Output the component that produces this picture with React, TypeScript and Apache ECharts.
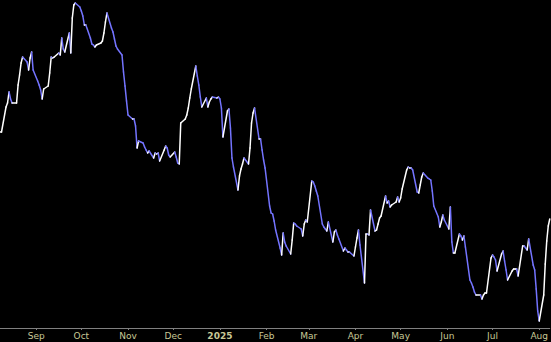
import React, { useEffect, useRef } from "react";
import * as echarts from "echarts";

// Daily closes, one per weekday starting Thu 2024-08-08
const closes: number[] = [
  29.6, 29.6,
  32.1, 32.5, 33.6, 32.9, 32.5,
  32.5, 34.3, 35.3, 36.5, 37.1,
  36.6, 35.8, 37.0, 37.6, 35.8,
  34.7, 34.3, 33.8, 32.9, 33.9,
  34.2, 35.5, 37.1, 37.0, 37.1,
  37.5, 37.3, 39.0, 37.9, 37.6,
  39.5, 37.5, 41.0, 42.3, 42.5,
  42.1, 41.7, 41.2, 40.3, 40.3,
  39.0, 38.4, 38.3, 38.1, 38.3,
  38.5, 38.7, 39.5, 40.6, 41.5,
  40.0, 39.6, 38.9, 38.2, 37.9,
  37.3, 35.6, 34.2, 32.7, 31.3,
  30.9, 30.9, 30.2, 28.0, 28.7,
  28.5, 28.1, 27.8, 27.5, 27.7,
  27.0, 27.5, 27.4, 27.5, 26.7,
  27.8, 28.2, 28.0, 27.3, 27.1,
  27.6, 27.1, 26.5, 26.4, 30.5,
  30.9, 31.3, 32.0, 33.0, 33.9,
  36.2, 35.2, 34.3, 33.1, 32.1,
  33.0, 32.1, 32.6, 32.9, 33.1,
  33.0, 33.1, 32.9, 32.0, 29.1,
  31.7, 31.9, 30.0, 27.0, 26.1,
  23.8, 25.2, 25.9, 26.4, 27.0,
  26.4, 28.0, 30.5, 31.5, 32.0,
  28.9, 28.9, 27.8, 26.8, 26.0,
  22.2, 21.5, 21.4, 20.7, 19.8,
  18.0, 17.3, 19.5, 18.6, 18.2,
  17.4, 18.8, 20.5, 20.4, 20.2,
  19.9, 19.2, 20.4, 20.8, 20.6,
  24.7, 24.6, 24.2, 23.7, 23.2,
  20.4, 20.1, 19.9, 19.7, 20.6,
  18.6, 19.6, 19.8, 19.3, 18.9,
  17.7, 18.0, 17.8, 17.6, 17.6,
  17.2, 18.1, 19.0, 19.8, 18.3,
  14.5, 19.4, 19.4, 19.3, 21.8,
  19.7, 19.8, 20.4, 21.0, 21.2,
  23.2, 22.5, 22.7, 22.1, 22.3,
  22.6, 23.1, 22.6, 23.0, 23.9,
  25.8, 26.1, 26.0, 26.0, 25.8,
  23.6, 23.5, 24.3, 25.1, 25.5,
  25.0, 24.9, 24.8, 23.7, 22.2,
  21.1, 20.1, 20.6, 21.3, 20.8,
  19.9, 22.1, 18.6, 17.5, 17.5,
  19.4, 19.2, 18.8, 19.2, 18.1,
  14.8, 14.5, 14.1, 13.6, 13.3,
  13.3, 12.9, 13.3, 13.5, 13.5,
  17.0, 17.3, 17.1, 16.8, 15.7,
  17.4, 17.7, 16.7, 15.8, 14.8,
  15.7, 15.9, 15.9, 15.9, 15.2,
  18.2, 18.2, 18.0, 17.8, 18.9,
  16.3, 15.8, 13.9, 11.7, 10.7,
  13.3, 16.4, 18.7, 20.2, 20.9,
];

const MONTH_NAMES = ["Jan", "Feb", "Mar", "Apr", "May", "Jun", "Jul", "Aug", "Sep", "Oct", "Nov", "Dec"];

const FIRST_DAY = new Date(2024, 7, 8).getTime();
const LAST_DAY = new Date(2025, 7, 8).getTime();
const DAY = 86400000;

function tradingDays(n: number): number[] {
  const out: number[] = [];
  const d = new Date(2024, 7, 8);
  while (out.length < n) {
    const wd = d.getDay();
    if (wd !== 0 && wd !== 6) out.push(d.getTime());
    d.setDate(d.getDate() + 1);
  }
  return out;
}

const UP_COLOR = "#ffffff";
const DOWN_COLOR = "#7474ff";
const LABEL_COLOR = "#c8c896";
const FONT = "DejaVu Sans";

export default function App() {
  const ref = useRef<HTMLDivElement>(null);

  useEffect(() => {
    document.body.style.margin = "0";
    document.body.style.background = "#000";
    if (!ref.current) return;
    const chart = echarts.init(ref.current, undefined, { renderer: "svg" });
    const dates = tradingDays(closes.length);
    const segments: number[][] = [];
    for (let i = 1; i < closes.length; i++) {
      segments.push([dates[i - 1], closes[i - 1], dates[i], closes[i]]);
    }
    chart.setOption({
      animation: false,
      backgroundColor: "#000000",
      grid: { left: 0, right: 0, top: 0, bottom: 14, containLabel: false },
      xAxis: {
        type: "time",
        min: FIRST_DAY,
        max: LAST_DAY,
        splitNumber: 12,
        minInterval: 28 * DAY,
        maxInterval: 31 * DAY,
        axisLine: { show: true, lineStyle: { color: "#808080", width: 1 } },
        axisTick: { show: true, length: 2, lineStyle: { color: "#808080" } },
        splitLine: { show: false },
        axisLabel: {
          color: LABEL_COLOR,
          fontSize: 9,
          fontFamily: FONT,
          margin: 3,
          showMinLabel: false,
          showMaxLabel: false,
          hideOverlap: false,
          formatter: (val: number) => {
            const d = new Date(val);
            return d.getMonth() === 0 ? `{yr|${d.getFullYear()}}` : MONTH_NAMES[d.getMonth()];
          },
          rich: {
            yr: { fontWeight: "bold", color: LABEL_COLOR, fontSize: 9, fontFamily: FONT },
          },
        },
      },
      yAxis: { type: "value", min: 10, max: 42.8, show: false },
      series: [
        {
          type: "custom",
          clip: false,
          encode: { x: [0, 2], y: [1, 3] },
          data: segments,
          renderItem: (_params: any, api: any) => {
            const a = api.coord([api.value(0), api.value(1)]);
            const b = api.coord([api.value(2), api.value(3)]);
            const up = api.value(3) >= api.value(1);
            return {
              type: "line",
              shape: { x1: a[0], y1: a[1], x2: b[0], y2: b[1] },
              style: { stroke: up ? UP_COLOR : DOWN_COLOR, lineWidth: 1.5, lineCap: "round" },
            };
          },
        },
      ],
    });
    return () => chart.dispose();
  }, []);

  return <div ref={ref} style={{ width: 551, height: 342, background: "#000" }} />;
}
